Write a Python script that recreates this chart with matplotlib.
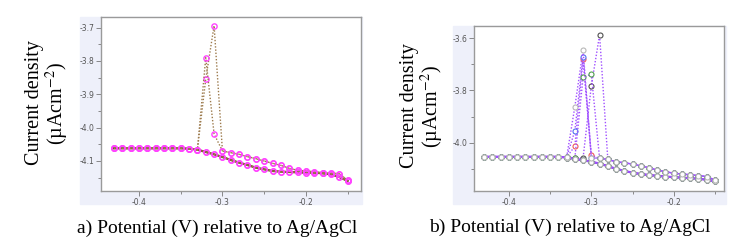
import matplotlib
matplotlib.use("Agg")
import matplotlib.pyplot as plt
from matplotlib.patches import Rectangle
from matplotlib.ticker import MultipleLocator

plt.rcParams['axes.unicode_minus'] = False
plt.rcParams['mathtext.fontset'] = 'stix'

# potential grid (V vs Ag/AgCl), shared by all sweeps
V = [-0.43, -0.42, -0.41, -0.40, -0.39, -0.38, -0.37, -0.36, -0.35, -0.34,
     -0.33, -0.32, -0.31, -0.30, -0.29, -0.28, -0.27, -0.26, -0.25, -0.24,
     -0.23, -0.22, -0.21, -0.20, -0.19, -0.18, -0.17, -0.16, -0.15]

# panel a: forward sweep (both runs) and two reverse sweeps
a_fwd = [-4.062, -4.062, -4.062, -4.062, -4.062, -4.062, -4.062, -4.062, -4.062, -4.063,
         -4.066, -4.073, -4.080, -4.088, -4.097, -4.105, -4.112, -4.120, -4.125, -4.130,
         -4.132, -4.133, -4.134, -4.135, -4.135, -4.137, -4.140, -4.148, -4.160]
a_rev1 = [-4.062, -4.062, -4.062, -4.062, -4.062, -4.062, -4.062, -4.062, -4.062, -4.063,
          -4.066, -3.854, -3.694, -4.070, -4.075, -4.080, -4.087, -4.093, -4.100, -4.107,
          -4.113, -4.122, -4.128, -4.130, -4.132, -4.135, -4.136, -4.138, -4.158]
a_rev2 = [-4.062, -4.062, -4.062, -4.062, -4.062, -4.062, -4.062, -4.062, -4.062, -4.063,
          -4.066, -3.790, -4.019, -4.070, -4.075, -4.080, -4.087, -4.093, -4.100, -4.107,
          -4.113, -4.122, -4.128, -4.130, -4.132, -4.135, -4.136, -4.138, -4.158]

# panel b: shared forward sweep, shared reverse baseline, spikes per run
b_fwd = [-4.054, -4.054, -4.054, -4.054, -4.054, -4.054, -4.054, -4.054, -4.054, -4.054,
         -4.057, -4.062, -4.067, -4.073, -4.080, -4.090, -4.100, -4.108, -4.115, -4.120,
         -4.124, -4.127, -4.130, -4.132, -4.134, -4.136, -4.138, -4.142, -4.148]
b_rev = [-4.054, -4.054, -4.054, -4.054, -4.054, -4.054, -4.054, -4.054, -4.054, -4.054,
         -4.056, -4.058, -4.058, -4.058, -4.060, -4.064, -4.073, -4.077, -4.082, -4.089,
         -4.096, -4.105, -4.111, -4.117, -4.120, -4.123, -4.126, -4.130, -4.143]
spike_v = [-0.32, -0.31, -0.30, -0.29]
runs_b = ['black', 'red', 'blue', 'green', 'gray']
spikes_b = {
    'black': [-4.058, -4.058, -3.782, -3.587],
    'red':   [-4.013, -3.680, -4.047, -4.060],
    'blue':  [-3.954, -3.670, -4.058, -4.060],
    'green': [-4.058, -3.749, -3.738, -4.060],
    'gray':  [-3.862, -3.645, -4.058, -4.060],
}
marker_cols = {'black': '#505050', 'red': '#f05a5a', 'blue': '#5470f0',
               'green': '#4f9a4f', 'gray': '#b8b8b8'}

fig = plt.figure(figsize=(7.5, 2.4), dpi=100)

# light lavender plot-area backgrounds
fig.patches.append(Rectangle((80 / 750, 36 / 240), 282 / 750, 187 / 240,
                             transform=fig.transFigure, color='#eef0fa', zorder=0))
fig.patches.append(Rectangle((453 / 750, 36 / 240), 273 / 750, 178 / 240,
                             transform=fig.transFigure, color='#eef0fa', zorder=0))

ax1 = fig.add_axes([101 / 750, 49 / 240, 260 / 750, 174 / 240])
ax2 = fig.add_axes([474 / 750, 49 / 240, 250 / 750, 165 / 240])


def sweep(fwd, rev):
    xs = V + V[::-1]
    ys = fwd + rev[::-1]
    return xs, ys


# forward sweep drawn solid-ish dark brown, reverse sweeps dotted
ax1.plot(V, a_fwd, color='#6e4a22', lw=1.6, zorder=2)
for i, rev in enumerate([a_rev1, a_rev2]):
    xs, ys = sweep(a_fwd, rev)
    ax1.plot(xs, ys, color='#9c7a4c', lw=1.0, ls=(i * 1.2, (1, 1.3)),
             marker='o', ms=3.8, mfc='none', mec='#ff44ff', mew=1.0, zorder=3)

ax2.plot(V, b_fwd, color='#8a2cf0', lw=1.6, zorder=2)
for i, run in enumerate(runs_b):
    rev = list(b_rev)
    for v, c in zip(spike_v, spikes_b[run]):
        rev[V.index(v)] = c
    xs, ys = sweep(b_fwd, rev)
    ax2.plot(xs, ys, color='#a050ff', lw=1.0, ls=(i * 0.5, (1, 1.3)),
             marker='o', ms=3.6, mfc='white', mec=marker_cols[run], mew=0.8,
             zorder=3)

ax1.set_xlim(-0.4455, -0.134)
ax1.set_ylim(-4.19, -3.668)
ax1.yaxis.set_major_locator(MultipleLocator(0.1))
ax1.yaxis.set_minor_locator(MultipleLocator(0.05))

ax2.set_xlim(-0.4424, -0.139)
ax2.set_ylim(-4.185, -3.553)
ax2.yaxis.set_major_locator(MultipleLocator(0.2))
ax2.yaxis.set_minor_locator(MultipleLocator(0.1))

for ax in (ax1, ax2):
    ax.set_zorder(2)
    ax.xaxis.set_major_locator(MultipleLocator(0.1))
    ax.xaxis.set_minor_locator(MultipleLocator(0.05))
    ax.set_facecolor('white')
    for s in ax.spines.values():
        s.set_color('#9a9a9a')
        s.set_linewidth(1.0)
    ax.tick_params(which='both', direction='out', color='#777777',
                   labelsize=5.5, labelcolor='#555555', pad=1.5, width=0.6)
    ax.tick_params(which='major', length=3.5)
    ax.tick_params(which='minor', length=2.5)

ylab = 'Current density\n(µAcm$^{-2}$)'
fig.text(48 / 750, 1 - 103 / 240, ylab, rotation=90, ha='center', va='center',
         multialignment='center', family='Liberation Serif', fontsize=14.5,
         linespacing=1.0)
fig.text(423 / 750, 1 - 106 / 240, ylab, rotation=90, ha='center', va='center',
         multialignment='center', family='Liberation Serif', fontsize=14.5,
         linespacing=1.0)

fig.text(217 / 750, 1 - 228 / 240, 'a) Potential (V) relative to Ag/AgCl',
         ha='center', va='center', family='Liberation Serif', fontsize=14)
fig.text(570 / 750, 1 - 227 / 240, 'b) Potential (V) relative to Ag/AgCl',
         ha='center', va='center', family='Liberation Serif', fontsize=14)

fig.savefig('out.png', dpi=100)
